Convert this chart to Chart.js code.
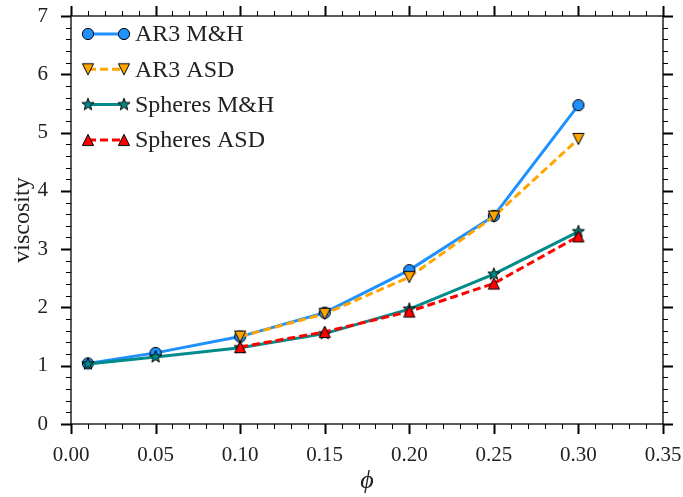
<!DOCTYPE html>
<html>
<head>
<meta charset="utf-8">
<script src="https://cdn.jsdelivr.net/npm/chart.js@4/dist/chart.umd.min.js"></script>
<style>
  html, body { margin: 0; padding: 0; background: #fff; }
  #wrap { width: 683px; height: 497px; }
</style>
</head>
<body>
<div id="wrap"><canvas id="viscChart"></canvas></div>
<script>
// volume fractions
const phi = [0.01, 0.05, 0.10, 0.15, 0.20, 0.25, 0.30];
const phiASD = [0.10, 0.15, 0.20, 0.25, 0.30];

// relative viscosity per model
const ar3MH = [1.04, 1.22, 1.50, 1.91, 2.64, 3.57, 5.47];
const ar3ASD = [1.50, 1.89, 2.52, 3.56, 4.89];
const spheresMH = [1.03, 1.15, 1.31, 1.55, 1.97, 2.57, 3.30];
const spheresASD = [1.32, 1.58, 1.93, 2.41, 3.22];

const seriesNames = ['AR3 M&H', 'AR3 ASD', 'Spheres M&H', 'Spheres ASD'];

const xTicks = [0, 0.05, 0.10, 0.15, 0.20, 0.25, 0.30, 0.35];
const yTicks = [0, 1, 2, 3, 4, 5, 6, 7];

const FONT = "'Liberation Serif', 'Times New Roman', serif";

function toPoints(xs, ys) {
  return xs.map((x, i) => ({ x: x, y: ys[i] }));
}

// little canvases used as point markers (and reused in the legend)
function makeMarker(drawShape, fill) {
  const c = document.createElement('canvas');
  c.width = 18; c.height = 18;
  const g = c.getContext('2d');
  g.translate(9, 9);
  g.beginPath();
  drawShape(g);
  g.closePath();
  g.fillStyle = fill;
  g.fill();
  g.lineWidth = 1;
  g.strokeStyle = '#000';
  g.stroke();
  return c;
}

const circleMark = makeMarker(g => g.arc(0, 0, 5.6, 0, Math.PI * 2), '#1e90ff');
const triDownMark = makeMarker(g => {
  g.moveTo(-5.6, -5.6); g.lineTo(5.6, -5.6); g.lineTo(0, 5.6);
}, '#ffa500');
const triUpMark = makeMarker(g => {
  g.moveTo(-5.6, 5.6); g.lineTo(5.6, 5.6); g.lineTo(0, -5.6);
}, '#ff0000');
const starMark = makeMarker(g => {
  for (let i = 0; i < 10; i++) {
    const r = i % 2 === 0 ? 6.4 : 2.6;
    const a = -Math.PI / 2 + i * Math.PI / 5;
    if (i === 0) g.moveTo(r * Math.cos(a), r * Math.sin(a));
    else g.lineTo(r * Math.cos(a), r * Math.sin(a));
  }
}, '#008b8b');

const datasets = [
  { label: seriesNames[0], data: toPoints(phi, ar3MH), borderColor: '#1e90ff', pointStyle: circleMark, order: 4 },
  { label: seriesNames[1], data: toPoints(phiASD, ar3ASD), borderColor: '#ffa500', borderDash: [8, 4], pointStyle: triDownMark, order: 3 },
  { label: seriesNames[2], data: toPoints(phi, spheresMH), borderColor: '#008b8b', pointStyle: starMark, order: 2 },
  { label: seriesNames[3], data: toPoints(phiASD, spheresASD), borderColor: '#ff0000', borderDash: [8, 4], pointStyle: triUpMark, order: 1 }
].map(d => Object.assign({ borderWidth: 3, fill: false, tension: 0 }, d));

// frame, outward ticks on all four sides, and the legend
const framePlugin = {
  id: 'frame',
  afterDraw(chart) {
    const { ctx, chartArea: a, scales: { x, y } } = chart;
    ctx.save();
    ctx.strokeStyle = '#000';
    ctx.lineWidth = 1.3;
    ctx.strokeRect(a.left, a.top, a.right - a.left, a.bottom - a.top);

    for (let i = 0; i <= 35; i++) {
      const px = Math.round(x.getPixelForValue(i / 100)) + 0.5;
      const major = i % 5 === 0;
      const len = major ? 10 : 5;
      ctx.lineWidth = major ? 2 : 1;
      ctx.beginPath();
      ctx.moveTo(px, a.bottom); ctx.lineTo(px, a.bottom + len);
      ctx.moveTo(px, a.top); ctx.lineTo(px, a.top - len);
      ctx.stroke();
    }
    for (let i = 0; i <= 35; i++) {
      const py = Math.round(y.getPixelForValue(i * 0.2)) + 0.5;
      const major = i % 5 === 0;
      const len = major ? 10 : 5;
      ctx.lineWidth = major ? 2 : 1;
      ctx.beginPath();
      ctx.moveTo(a.left, py); ctx.lineTo(a.left - len, py);
      ctx.moveTo(a.right, py); ctx.lineTo(a.right + len, py);
      ctx.stroke();
    }

    // legend: line sample with a marker at each end
    const x0 = a.left + 17, x1 = a.left + 53;
    ctx.font = '24px ' + FONT;
    ctx.fillStyle = '#222';
    ctx.textBaseline = 'middle';
    chart.data.datasets.forEach((ds, i) => {
      const ly = a.top + 18 + i * 35.3;
      ctx.save();
      ctx.strokeStyle = ds.borderColor;
      ctx.lineWidth = ds.borderWidth;
      ctx.setLineDash(ds.borderDash || []);
      ctx.beginPath();
      ctx.moveTo(x0, ly); ctx.lineTo(x1, ly);
      ctx.stroke();
      ctx.restore();
      const m = ds.pointStyle;
      ctx.drawImage(m, x0 - m.width / 2, ly - m.height / 2);
      ctx.drawImage(m, x1 - m.width / 2, ly - m.height / 2);
      ctx.fillText(ds.label, a.left + 64, ly + 1);
    });
    ctx.restore();
  }
};

// keep the plot box fixed: no extra room for overhanging edge labels
function noEdgePadding(s) {
  s.paddingTop = 0; s.paddingBottom = 0;
  s.paddingLeft = 0; s.paddingRight = 0;
}

new Chart(document.getElementById('viscChart'), {
  type: 'line',
  data: { datasets: datasets },
  options: {
    responsive: true,
    maintainAspectRatio: false,
    animation: false,
    layout: { padding: { left: 0, right: 20, top: 16, bottom: 0 } },
    plugins: { legend: { display: false }, tooltip: { enabled: false } },
    elements: { point: { radius: 6 } },
    scales: {
      x: {
        type: 'linear',
        min: 0, max: 0.35,
        afterFit: s => { s.height = 73; noEdgePadding(s); },
        afterBuildTicks: s => { s.ticks = xTicks.map(v => ({ value: v })); },
        grid: { display: false, drawTicks: false },
        border: { display: false },
        ticks: {
          padding: 19,
          color: '#222',
          font: { family: FONT, size: 21 },
          callback: v => v.toFixed(2)
        },
        title: {
          display: true,
          text: 'ϕ',
          color: '#222',
          font: { family: FONT, size: 26, style: 'italic' },
          padding: { top: 0, bottom: 0 }
        }
      },
      y: {
        type: 'linear',
        min: 0, max: 7,
        afterFit: s => { s.width = 71; noEdgePadding(s); },
        afterBuildTicks: s => { s.ticks = yTicks.map(v => ({ value: v })); },
        grid: { display: false, drawTicks: false },
        border: { display: false },
        ticks: {
          padding: 23,
          color: '#222',
          font: { family: FONT, size: 21 },
          callback: v => String(v)
        },
        title: {
          display: true,
          text: 'viscosity',
          color: '#222',
          font: { family: FONT, size: 24 },
          padding: { top: 8, bottom: 0 }
        }
      }
    }
  },
  plugins: [framePlugin]
});
</script>
</body>
</html>
